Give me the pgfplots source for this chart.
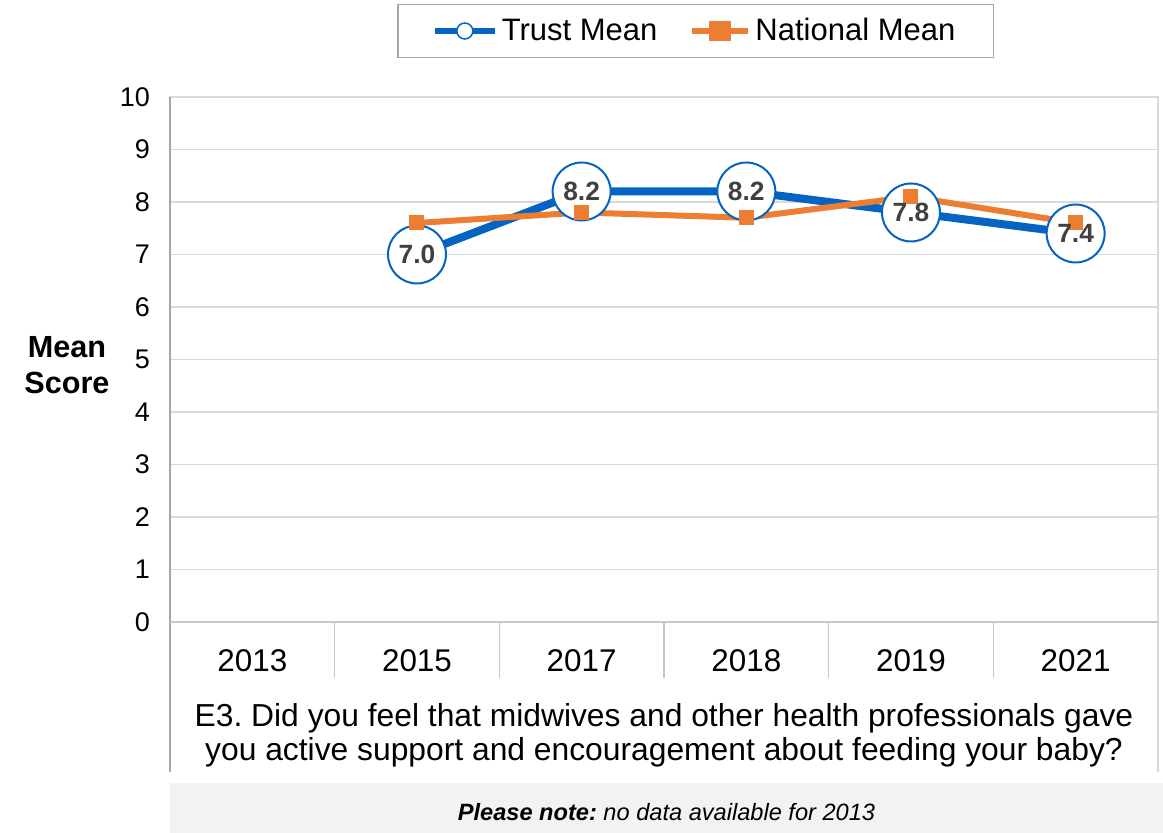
\documentclass[border=0pt]{standalone}
\usepackage{fontspec}
\setmainfont{Liberation Sans}
\usepackage{pgfplots}
\pgfplotsset{compat=1.18}
\definecolor{trustblue}{RGB}{5,99,193}
\definecolor{natorange}{RGB}{237,125,49}
\definecolor{gridgray}{RGB}{217,217,217}
\definecolor{sepgray}{RGB}{200,200,200}
\definecolor{axisgray}{RGB}{166,166,166}
\definecolor{labelgray}{RGB}{64,64,64}
\definecolor{notegray}{RGB}{242,242,242}
\frenchspacing
\begin{document}
\begin{tikzpicture}[font=\fontsize{15.5}{18}\selectfont]
\path[use as bounding box] (-85pt,-105.5pt) rectangle (496.5pt,311pt);
\fill[notegray] (0pt,-80.5pt) rectangle (496.5pt,-105.5pt);
\node[font=\fontsize{11.8}{14}\selectfont\itshape] at (248.25pt,-95pt) {\textbf{Please note:} no data available for 2013};
\node[font=\fontsize{15.3}{18}\selectfont\bfseries, align=center] at (-51.5pt,128.5pt) {Mean\\Score};
\node[align=center, font=\fontsize{15.9}{17}\selectfont] at (247pt,-56.5pt) {E3. Did you feel that midwives and other health professionals gave\\you active support and encouragement about feeding your baby?};
\foreach \x in {82.33,164.67,247,329.33,411.67} {
  \draw[sepgray, line width=0.75pt] (\x pt,0pt) -- (\x pt,-28pt);
}
\draw[gridgray, line width=0.75pt] (494pt,262.5pt) -- (494pt,-75pt);
\draw[axisgray, line width=0.75pt] (0pt,262.5pt) -- (0pt,-75pt);
\begin{axis}[
  at={(0,0)}, anchor=south west,
  scale only axis, width=494pt, height=262.5pt,
  xmin=-0.5, xmax=5.5, ymin=0, ymax=10,
  xtick={0,1,2,3,4,5}, xticklabels={2013,2015,2017,2018,2019,2021},
  ytick={0,1,2,3,4,5,6,7,8,9,10},
  major tick length=0pt,
  ymajorgrids, grid style={gridgray, line width=0.75pt},
  axis line style={gridgray, line width=0.75pt},
  clip=false,
  /pgf/number format/assume math mode=true,
  xticklabel style={font=\fontsize{15.7}{18}\selectfont, yshift=-10.5pt},
  yticklabel style={font=\fontsize{13.5}{16}\selectfont, xshift=-6.5pt},
  legend columns=2,
  legend style={at={(0.532,1.1257)}, anchor=center, draw=axisgray, line width=0.75pt,
    font=\fontsize{15.5}{18}\selectfont, inner ysep=5pt, inner xsep=17pt,
    /tikz/every even column/.append style={column sep=14pt}},
]
\addplot[trustblue, line width=4pt, mark=*, mark size=14.5pt,
  mark options={fill=white, draw=trustblue, line width=1pt},
  legend image code/.code={\draw[trustblue, line width=3pt] (0pt,0pt) -- (30pt,0pt);
    \draw[trustblue, fill=white, line width=0.75pt] (15pt,0pt) circle (4pt);}]
  coordinates {(1,7.0) (2,8.2) (3,8.2) (4,7.8) (5,7.4)};
\addlegendentry{Trust Mean}
\addplot[natorange, line width=3pt, mark=square*, mark size=3.5pt,
  mark options={fill=natorange, draw=natorange, line width=0pt},
  legend image code/.code={\draw[natorange, line width=3pt] (0pt,0pt) -- (28pt,0pt);
    \fill[natorange] (10pt,-3.5pt) rectangle (18pt,3.5pt);}]
  coordinates {(1,7.6) (2,7.8) (3,7.7) (4,8.1) (5,7.6)};
\addlegendentry{National Mean}
\addplot[draw=none, forget plot, nodes near coords={\pgfmathprintnumber[fixed,fixed zerofill,precision=1]{\pgfplotspointmeta}},
  every node near coord/.append style={anchor=center, font=\fontsize{13.2}{15}\selectfont\bfseries, text=labelgray}]
  coordinates {(1,7.0) (2,8.2) (3,8.2) (4,7.8) (5,7.4)};
\draw[sepgray, line width=0.75pt] (rel axis cs:0,0) -- (rel axis cs:1,0);
\draw[axisgray, line width=0.75pt] (rel axis cs:0,0) -- (rel axis cs:0,1);
\end{axis}
\end{tikzpicture}
\end{document}
